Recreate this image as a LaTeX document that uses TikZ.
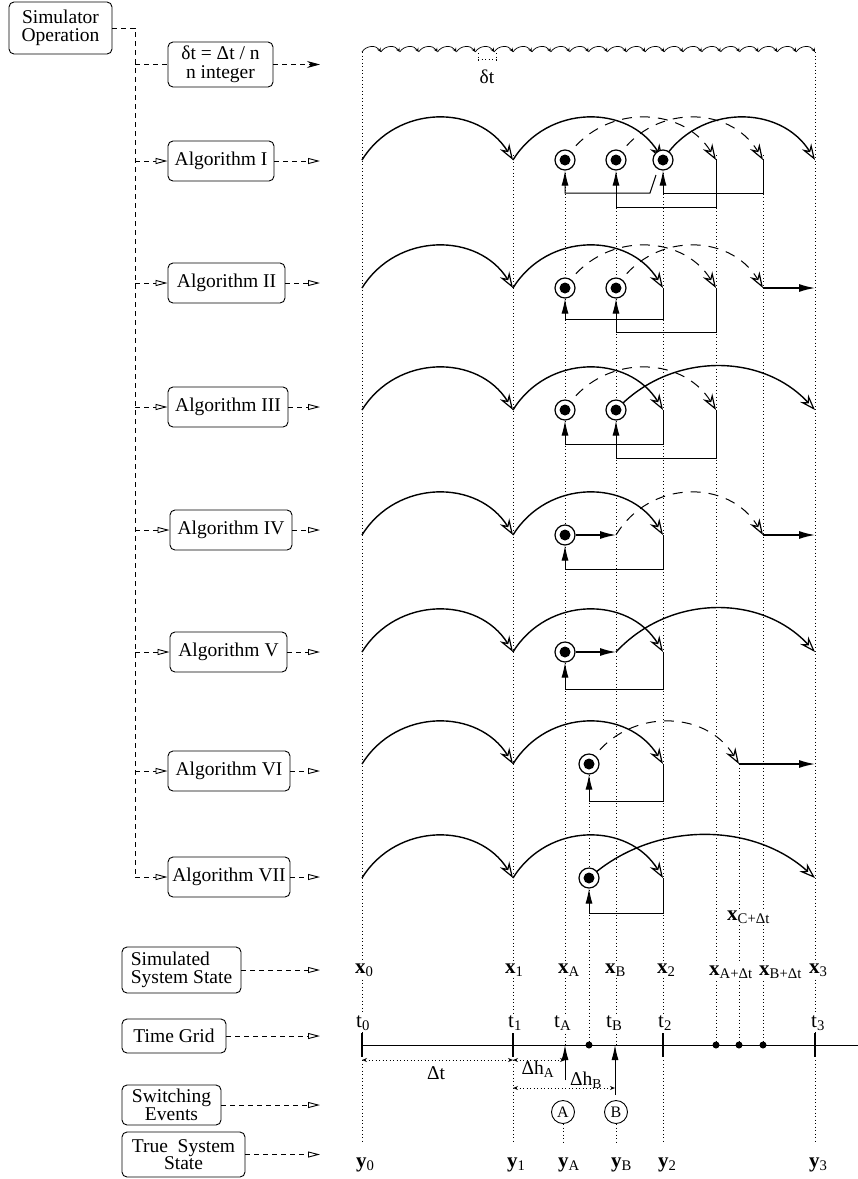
\documentclass[tikz,border=0pt]{standalone}
\usepackage{fontspec}
\setmainfont{Liberation Serif}
\usetikzlibrary{arrows.meta,calc}

\tikzset{
  box/.style={draw,rounded corners=5pt,line width=0.9pt,align=center,inner sep=1pt},
  hop/.style args={#1/#2}{to path={.. controls ($(\tikztostart)!#1!(\tikztotarget)+(0,-#2)$)
      and ($(\tikztotarget)!#1!(\tikztostart)+(0,-#2)$) .. (\tikztotarget) \tikztonodes}},
  leap/.style={line width=1.4pt,-{Stealth[open,length=16pt,width=11pt,line width=1.2pt]}},
  ghost/.style={leap,line width=1pt,dash pattern=on 10pt off 8pt},
  nib/.style={line width=0.7pt,-{Stealth[open,length=4pt,width=4pt]}},
  push/.style={line width=1.4pt,-{Latex[length=16pt,width=8pt]}},
  feed/.style={line width=1pt,-{Latex[length=15pt,width=7pt]}},
  guide/.style={line width=0.9pt,dash pattern=on 1pt off 2.5pt},
  lead/.style={line width=0.9pt,dash pattern=on 5pt off 4pt},
  hollow/.style={lead,-{Triangle[open,length=12pt,width=6pt]}},
  instant/.style={circle,draw,fill=white,line width=1.2pt,minimum size=20pt,inner sep=0pt,
     path picture={\fill[black] (path picture bounding box.center) circle[radius=5.5pt];}},
  lab/.style={fill=white,inner sep=1pt,anchor=base west,font=\fontsize{21}{22}\selectfont},
}

\begin{document}
\begin{tikzpicture}[x=1pt,y=-1pt,font=\fontsize{19.5}{17.5}\selectfont]
\useasboundingbox (0,0) rectangle (858,1179);

% time instants of every row
\foreach \r/\y in {1/160,2/288,3/410,4/535,5/652,6/764,7/878}
  \foreach \c/\x in {0/362,1/513,A/565,C/589,B/616,2/663,a/716,c/739,b/763,3/815}
    \coordinate (r\r-\c) at (\x,\y);
\foreach \c/\x in {0/362,1/513,A/565,C/589,B/615,2/663,a/716,c/739,b/763,3/815}
  \coordinate (g\c) at (\x,1045);
\coordinate (trunk) at (135,28);
\coordinate (out) at (320,0);

% dotted guides
\foreach \x in {362,815} \draw[guide] (\x,52) -- (\x,1045);
\foreach \x in {513,565,616,663,716,763} \draw[guide] (\x,155) -- (\x,1045);
\foreach \x in {589,739} \draw[guide] (\x,764) -- (\x,1045);
\foreach \x in {362,513,663,815} \draw[guide] (\x,1060) -- (\x,1142);
\foreach \x in {563,616} \draw[guide] (\x,1124) -- (\x,1142);

% small steps delta t
\foreach \i in {0,...,23}
  \draw[nib] ({362+\i*18.875},52) to[hop=0.23/7] ({362+(\i+1)*18.875},52);
\draw[guide] (478,53) -- (478,61) (478,59) -- (496,59) (496,53) -- (496,61);
\node (dtlab) at (487,77) {δt};

% left column
\node[box,minimum width=103pt,minimum height=52pt] (sim) at (60.5,28) {Simulator\\Operation};
\node[box,minimum width=105pt,minimum height=45pt,font=\fontsize{19.5}{19}\selectfont] (dt) at (220.5,64.5) {δt = Δt / n\\n integer};
\draw[lead] (sim.east) -- (trunk) -- (135,877);
\draw[lead] (trunk |- dt.west) -- (dt.west);
\draw[lead,-{Stealth[length=13pt,width=7pt]}] (dt.east) -- (dt.east -| out);
\foreach \r/\name/\cx/\y/\w in {1/I/221/161/106,2/II/226.5/283/117,3/III/228/407/120,
    4/IV/231/530/122,5/V/228.5/652/117,6/VI/229/771/122,7/VII/229/877/122}
{
  \node[box,minimum width=\w*1pt,minimum height=40pt] (alg\r) at (\cx,\y) {Algorithm \name};
  \draw[hollow] (trunk |- alg\r.west) -- (alg\r.west);
  \draw[hollow] (alg\r.east) -- (alg\r.east -| out);
}

% big steps, same in every row
\foreach \r in {1,...,7}
{
  \draw[leap] (r\r-0) to[hop=0.23/56] (r\r-1);
  \draw[leap] (r\r-1) to[hop=0.23/56] (r\r-2);
}

% Algorithm I
\draw[leap] (r1-2) to[hop=0.23/56] (r1-3);
\draw[ghost] (r1-A) to[hop=0.23/56] (r1-a);
\draw[ghost] (r1-B) to[hop=0.23/56] (r1-b);
\node[instant] (p1A) at (r1-A) {};
\node[instant] (p1B) at (r1-B) {};
\node[instant] (p12) at (r1-2) {};
\draw[feed] (r1-2) ++(-7,15) -- ++(-6,18) -| (p1A.south);
\draw[feed] (r1-a) -- ++(0,47) -| (p1B.south);
\draw[feed] (r1-b) -- ++(0,33) -| (p12.south);

% Algorithm II
\draw[ghost] (r2-A) to[hop=0.23/56] (r2-a);
\draw[ghost] (r2-B) to[hop=0.23/56] (r2-b);
\draw[push] (r2-b) -- (r2-3);
\node[instant] (p2A) at (r2-A) {};
\node[instant] (p2B) at (r2-B) {};
\draw[feed] (r2-2) -- ++(0,31) -| (p2A.south);
\draw[feed] (r2-a) -- ++(0,44) -| (p2B.south);

% Algorithm III
\draw[ghost] (r3-A) to[hop=0.23/56] (r3-a);
\draw[leap] (r3-B) to[hop=0.27/58] (r3-3);
\node[instant] (p3A) at (r3-A) {};
\node[instant] (p3B) at (r3-B) {};
\draw[feed] (r3-2) -- ++(0,34) -| (p3A.south);
\draw[feed] (r3-a) -- ++(0,48) -| (p3B.south);

% Algorithm IV
\draw[ghost] (r4-B) to[hop=0.23/56] (r4-b);
\draw[push] (r4-b) -- (r4-3);
\node[instant] (p4A) at (r4-A) {};
\draw[push] (p4A) -- (r4-B);
\draw[feed] (r4-2) -- ++(0,34) -| (p4A.south);

% Algorithm V
\draw[leap] (r5-B) to[hop=0.27/58] (r5-3);
\node[instant] (p5A) at (r5-A) {};
\draw[push] (p5A) -- (r5-B);
\draw[feed] (r5-2) -- ++(0,37) -| (p5A.south);

% Algorithm VI
\draw[ghost] (r6-C) to[hop=0.23/56] (r6-c);
\draw[push] (r6-c) -- (r6-3);
\node[instant] (p6C) at (r6-C) {};
\draw[feed] (r6-2) -- ++(0,37) -| (p6C.south);

% Algorithm VII
\draw[leap] (r7-C) to[hop=0.28/57] (r7-3);
\node[instant] (p7C) at (r7-C) {};
\draw[feed] (r7-2) -- ++(0,35) -| (p7C.south);

% bottom legend boxes
\node[box,minimum width=119pt,minimum height=46pt,align=left] (state) at (181.5,970) {Simulated\\System State};
\node[box,minimum width=104pt,minimum height=34pt] (gridbox) at (174,1036) {Time Grid};
\node[box,minimum width=99pt,minimum height=40pt] (events) at (171.5,1105) {Switching\\Events};
\node[box,minimum width=123pt,minimum height=45pt] (truth) at (183.5,1154.5) {True\ \ System\\State};
\foreach \b in {state,gridbox,events,truth}
  \draw[hollow] (\b.east) -- (\b.east -| out);

% simulated states
\node[lab] (x0) at (354,973) {\textbf{x}\textsubscript{0}};
\node[lab] (x1) at (504,973) {\textbf{x}\textsubscript{1}};
\node[lab] (xA) at (557,973) {\textbf{x}\textsubscript{A}};
\node[lab] (xB) at (604,973) {\textbf{x}\textsubscript{B}};
\node[lab] (x2) at (656,973) {\textbf{x}\textsubscript{2}};
\node[lab] (xa) at (708,975) {\textbf{x}\textsubscript{A+Δt}};
\node[lab] (xb) at (758,975) {\textbf{x}\textsubscript{B+Δt}};
\node[lab] (x3) at (808,973) {\textbf{x}\textsubscript{3}};
\node[lab] (xc) at (726,920) {\textbf{x}\textsubscript{C+Δt}};

% time grid
\draw[line width=1pt] (g0) -- (858,1045);
\foreach \c in {0,1,2,3} \draw[line width=2.5pt] (g\c) ++(0,-12) -- ++(0,24);
\foreach \c in {C,a,c,b} \fill (g\c) circle[radius=3.5pt];
\node[lab] (t0) at (355,1027) {t\textsubscript{0}};
\node[lab] (t1) at (507,1027) {t\textsubscript{1}};
\node[lab] (tA) at (553,1027) {t\textsubscript{A}};
\node[lab] (tB) at (605,1027) {t\textsubscript{B}};
\node[lab] (t2) at (657,1027) {t\textsubscript{2}};
\node[lab] (t3) at (810,1027) {t\textsubscript{3}};

% step sizes
\draw[guide,{Stealth[open,length=5pt,width=4pt]}-{Stealth[open,length=5pt,width=4pt]}] (362,1060) -- (513,1060);
\draw[guide,{Stealth[open,length=5pt,width=4pt]}-{Stealth[open,length=5pt,width=4pt]}] (513,1060) -- (565,1060);
\draw[guide,{Stealth[open,length=5pt,width=4pt]}-{Stealth[open,length=5pt,width=4pt]}] (513,1088) -- (615,1088);
\node (dT) at (436,1073) {Δt};
\node (dhA) at (538,1069) {Δh\textsubscript{A}};
\node (dhB) at (586,1080) {Δh\textsubscript{B}};
\draw[feed] (gA) ++(0,35) -- (gA);
\draw[feed] (gB) ++(0,50) -- (gB);

% switching events
\node[circle,draw,line width=0.9pt,minimum size=23pt,inner sep=0pt,font=\fontsize{16}{16}\selectfont] (evA) at (563,1112) {A};
\node[circle,draw,line width=0.9pt,minimum size=23pt,inner sep=0pt,font=\fontsize{16}{16}\selectfont] (evB) at (616,1112) {B};

% true states
\node[lab] (y0) at (355,1167) {\textbf{y}\textsubscript{0}};
\node[lab] (y1) at (506,1167) {\textbf{y}\textsubscript{1}};
\node[lab] (yA) at (557,1167) {\textbf{y}\textsubscript{A}};
\node[lab] (yB) at (610,1167) {\textbf{y}\textsubscript{B}};
\node[lab] (y2) at (657,1167) {\textbf{y}\textsubscript{2}};
\node[lab] (y3) at (808,1167) {\textbf{y}\textsubscript{3}};
\end{tikzpicture}
\end{document}
